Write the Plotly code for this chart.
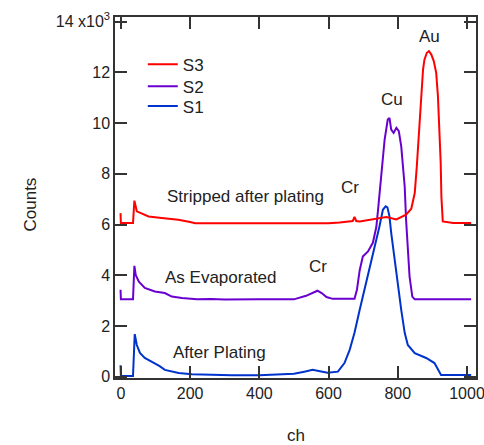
import plotly.graph_objects as go

# Channel / counts (x10^3)
s1_ch = [-1, 0, 35, 38, 40, 46, 55, 69, 84, 98, 112, 127, 147, 167, 205, 260, 320, 400, 460, 500,
         530, 554, 575, 597, 627, 646, 661, 675, 690, 704, 719, 733, 747, 757, 765, 770, 776, 781,
         791, 800, 810, 820, 829, 849, 882, 906, 916, 925, 960, 1012]
s1 = [0.45, 0.03, 0.03, 1.2, 1.68, 1.25, 0.94, 0.74, 0.62, 0.54, 0.42, 0.27, 0.2, 0.15, 0.1, 0.07, 0.06, 0.06, 0.08, 0.12,
      0.2, 0.27, 0.22, 0.16, 0.2, 0.54, 1.06, 1.73, 2.64, 3.43, 4.22, 5.08, 5.92, 6.58, 6.72, 6.68, 6.32, 5.67,
      4.61, 3.56, 2.64, 1.73, 1.25, 0.93, 0.74, 0.54, 0.27, 0.07, 0.07, 0.07]

s2_ch = [-1, 0, 35, 39, 43, 52, 69, 84, 98, 127, 147, 176, 220, 260, 300, 400, 500, 535, 555, 568, 580,
         594, 612, 675, 682, 690, 699, 714, 728, 738, 743, 752, 762, 771, 776, 781, 788, 796, 803, 810,
         820, 824, 829, 834, 842, 849, 900, 1012]
s2 = [3.43, 3.05, 3.05, 4.37, 4.0, 3.75, 3.5, 3.42, 3.36, 3.3, 3.16, 3.1, 3.05, 3.06, 3.04, 3.05, 3.05, 3.19, 3.3, 3.39, 3.3,
      3.14, 3.07, 3.07, 3.43, 4.2, 4.74, 4.94, 5.28, 5.9, 6.58, 8.04, 9.35, 10.14, 10.2, 9.74, 9.61, 9.81, 9.68, 9.08,
      7.5, 6.19, 5.0, 3.95, 3.16, 3.05, 3.05, 3.05]

s3_ch = [-1, 0, 35, 39, 46, 61, 80, 118, 166, 200, 215, 300, 400, 500, 600, 632, 660, 670, 675, 680, 690,
         727, 747, 767, 796, 805, 824, 839, 849, 855, 861, 868, 873, 877, 884, 890, 897, 904, 911, 916,
         921, 924, 926, 930, 960, 1012]
s3 = [6.45, 6.06, 6.06, 6.94, 6.52, 6.43, 6.32, 6.26, 6.19, 6.1, 6.05, 6.05, 6.05, 6.05, 6.05, 6.08, 6.12, 6.14, 6.3, 6.14, 6.12,
      6.2, 6.23, 6.3, 6.2, 6.26, 6.39, 6.62, 7.24, 8.29, 9.61, 11.06, 12.11, 12.5, 12.77, 12.83, 12.7, 12.44, 11.98, 11.06,
      9.74, 8.43, 7.1, 6.12, 6.06, 6.06]

y_tickvals = [0, 2, 4, 6, 8, 10, 12, 14]
y_ticktext = ["0", "2", "4", "6", "8", "10", "12", "14 x10<sup>3</sup>"]
x_tickvals = [0, 200, 400, 600, 800, 1000]

labels = [
    ("Stripped after plating", 127, 7.11, "left"),
    ("Cr", 661, 7.45, "center"),
    ("Cu", 782, 10.93, "center"),
    ("Au", 892, 13.42, "center"),
    ("As Evaporated", 121, 3.9, "left"),
    ("Cr", 569, 4.33, "center"),
    ("After Plating", 144, 0.94, "left"),
]

FONT = "Liberation Sans, Arial, sans-serif"
TXT = "#222222"
AX = "#333333"

fig = go.Figure()
fig.add_trace(go.Scatter(x=s1_ch, y=s1, mode="lines", name="S1", legend="legend3",
                         line=dict(color="#0033cc", width=2)))
fig.add_trace(go.Scatter(x=s2_ch, y=s2, mode="lines", name="S2", legend="legend2",
                         line=dict(color="#6a00d0", width=2)))
fig.add_trace(go.Scatter(x=s3_ch, y=s3, mode="lines", name="S3", legend="legend",
                         line=dict(color="#ff0000", width=2)))

for text, x, y, anchor in labels:
    fig.add_annotation(x=x, y=y, text=text, showarrow=False, xanchor=anchor, yanchor="middle",
                       font=dict(family=FONT, size=17, color=TXT))

fig.add_annotation(xref="paper", yref="paper", x=0, y=0.5, xshift=-85, yshift=-7, text="Counts",
                   textangle=-90, showarrow=False, xanchor="center", yanchor="middle",
                   font=dict(family=FONT, size=17, color=TXT))
fig.add_annotation(xref="paper", yref="paper", x=0.5, y=0, yshift=-57, text="ch",
                   showarrow=False, xanchor="center", yanchor="middle",
                   font=dict(family=FONT, size=17, color=TXT))

axis_common = dict(showline=True, linecolor=AX, linewidth=1.5, mirror="ticks", ticks="inside",
                   ticklen=12, tickwidth=1.5, tickcolor=AX, showgrid=False, zeroline=False,
                   automargin=False, ticklabeloverflow="allow",
                   tickfont=dict(family=FONT, size=16, color=TXT))

leg_common = dict(x=0.077, xanchor="left", yanchor="top", bgcolor="rgba(0,0,0,0)",
                  font=dict(family=FONT, size=17, color=TXT))

fig.update_layout(
    width=484, height=445, autosize=False,
    margin=dict(l=115, r=8, t=17, b=67, autoexpand=False),
    paper_bgcolor="white", plot_bgcolor="white",
    showlegend=True,
    legend=dict(y=0.918, **leg_common),
    legend2=dict(y=0.857, **leg_common),
    legend3=dict(y=0.802, **leg_common),
    xaxis=dict(range=[-17, 1026], tickvals=x_tickvals, **axis_common),
    yaxis=dict(range=[-0.05, 14.18], tickvals=y_tickvals, ticktext=y_ticktext, **axis_common),
)

post = ("document.body.style.margin='0';"
        "document.body.style.overflow='hidden';"
        "document.documentElement.style.overflow='hidden';"
        "var gd=document.getElementById('{plot_id}');"
        "Plotly.relayout(gd,{width:484,height:445});")

fig.write_html("out.html", config={"responsive": False, "displayModeBar": False}, post_script=post)
